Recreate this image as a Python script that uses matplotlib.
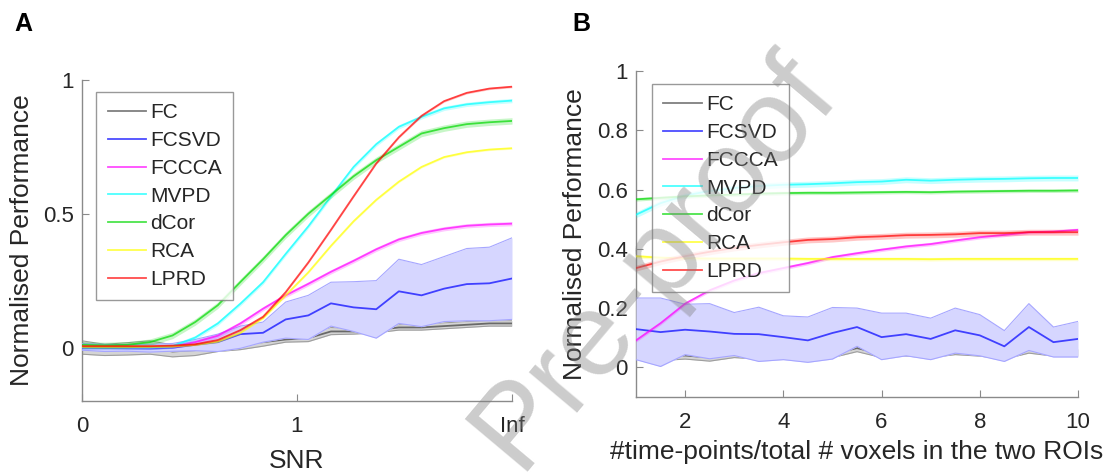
import numpy as np
import matplotlib
matplotlib.use("Agg")
import matplotlib.pyplot as plt

plt.rcParams['font.family'] = ['Liberation Sans', 'DejaVu Sans']

# ---------------- data ----------------
names = ["FC", "FCSVD", "FCCCA", "MVPD", "dCor", "RCA", "LPRD"]

# Panel A: performance vs SNR (20 points from 0 to Inf, plotted on 0..2)
snr_x = np.linspace(0, 2, 20)
snr_ticks = [0, 1, 2]
snr_ticklabels = ["0", "1", "Inf"]

a_fc = [0.0, -0.01, -0.005, 0.0, -0.015, -0.01, 0.005, 0.01, 0.02, 0.03,
        0.035, 0.06, 0.06, 0.065, 0.075, 0.075, 0.08, 0.085, 0.09, 0.09]
a_fc_lo = [-0.025, -0.03, -0.028, -0.025, -0.035, -0.03, -0.015, -0.008, 0.005, 0.02,
           0.022, 0.048, 0.05, 0.055, 0.065, 0.065, 0.07, 0.075, 0.08, 0.08]
a_fc_hi = [0.025, 0.012, 0.018, 0.025, 0.01, 0.012, 0.03, 0.035, 0.04, 0.045,
           0.048, 0.075, 0.07, 0.078, 0.085, 0.088, 0.092, 0.097, 0.1, 0.1]
a_fcsvd = [-0.002, -0.002, -0.003, -0.004, -0.001, 0.01, 0.02, 0.05, 0.055, 0.105,
           0.12, 0.165, 0.15, 0.143, 0.21, 0.195, 0.22, 0.237, 0.24, 0.258]
a_fcsvd_lo = [-0.01, -0.015, -0.014, -0.017, -0.014, -0.012, -0.015, -0.003, 0.02, 0.035,
              0.03, 0.08, 0.06, 0.035, 0.09, 0.078, 0.097, 0.1, 0.1, 0.105]
a_fcsvd_hi = [0.015, 0.012, 0.01, 0.012, 0.015, 0.03, 0.05, 0.08, 0.095, 0.17,
              0.195, 0.244, 0.246, 0.25, 0.33, 0.31, 0.34, 0.37, 0.375, 0.41]
a_fccca = [0.0, 0.0, 0.0, 0.0, 0.005, 0.02, 0.044, 0.09, 0.145, 0.195,
           0.238, 0.283, 0.324, 0.367, 0.404, 0.428, 0.444, 0.455, 0.46, 0.463]
a_mvpd = [0.0, 0.0, 0.0, 0.0, 0.005, 0.037, 0.09, 0.164, 0.244, 0.35,
          0.453, 0.565, 0.675, 0.76, 0.825, 0.862, 0.894, 0.909, 0.917, 0.923]
a_dcor = [0.01, 0.008, 0.01, 0.02, 0.045, 0.095, 0.158, 0.245, 0.33, 0.42,
          0.5, 0.57, 0.64, 0.70, 0.75, 0.80, 0.82, 0.835, 0.842, 0.847]
a_rca = [0.003, 0.003, 0.003, 0.003, 0.004, 0.01, 0.022, 0.055, 0.11, 0.195,
         0.281, 0.38, 0.472, 0.552, 0.62, 0.675, 0.712, 0.73, 0.74, 0.745]
a_lprd = [0.005, 0.005, 0.005, 0.005, 0.007, 0.012, 0.028, 0.065, 0.115, 0.207,
          0.318, 0.44, 0.565, 0.688, 0.786, 0.866, 0.921, 0.952, 0.968, 0.975]
a_err = {"FCCCA": 0.008, "MVPD": 0.008, "dCor": 0.012, "RCA": 0.004, "LPRD": 0.004}

# Panel B: performance vs #time-points / total # voxels
ratio_x = np.arange(1, 10.01, 0.5)
b_fc = [0.04, 0.035, 0.04, 0.033, 0.045, 0.04, 0.045, 0.04, 0.045, 0.065,
        0.045, 0.05, 0.045, 0.055, 0.05, 0.04, 0.06, 0.05, 0.05]
b_fcsvd = [0.129, 0.119, 0.127, 0.121, 0.113, 0.112, 0.102, 0.091, 0.116, 0.136,
           0.102, 0.112, 0.096, 0.125, 0.108, 0.071, 0.136, 0.085, 0.096]
b_fcsvd_lo = [0.026, 0.003, 0.043, 0.029, 0.04, 0.02, 0.026, 0.017, 0.028, 0.071,
              0.026, 0.039, 0.026, 0.048, 0.039, 0.02, 0.057, 0.035, 0.035]
b_fcsvd_hi = [0.234, 0.234, 0.213, 0.215, 0.185, 0.203, 0.174, 0.17, 0.202, 0.2,
              0.183, 0.183, 0.166, 0.2, 0.178, 0.124, 0.215, 0.136, 0.155]
b_fccca = [0.091, 0.149, 0.215, 0.26, 0.293, 0.318, 0.335, 0.352, 0.372, 0.385,
           0.397, 0.408, 0.416, 0.428, 0.439, 0.447, 0.456, 0.458, 0.464]
b_mvpd = [0.515, 0.554, 0.58, 0.595, 0.605, 0.612, 0.616, 0.618, 0.621, 0.625,
          0.627, 0.633, 0.63, 0.633, 0.635, 0.636, 0.638, 0.639, 0.639]
b_dcor = [0.567, 0.572, 0.577, 0.58, 0.583, 0.586, 0.588, 0.589, 0.589, 0.59,
          0.591, 0.592, 0.591, 0.593, 0.594, 0.595, 0.596, 0.596, 0.597]
b_rca = [0.375, 0.37, 0.368, 0.367, 0.367, 0.367, 0.367, 0.366, 0.366, 0.366,
         0.366, 0.366, 0.365, 0.366, 0.366, 0.366, 0.366, 0.366, 0.366]
b_lprd = [0.335, 0.357, 0.375, 0.39, 0.403, 0.413, 0.422, 0.43, 0.433, 0.439,
          0.442, 0.446, 0.447, 0.449, 0.453, 0.453, 0.456, 0.456, 0.456]
b_err = {"FCCCA": 0.006, "MVPD": 0.01, "dCor": 0.006, "RCA": 0.006, "LPRD": 0.01}

colors = {"FC": (0.0, 0.0, 0.0), "FCSVD": (0.0, 0.0, 1.0), "FCCCA": (1.0, 0.0, 1.0),
          "MVPD": (0.0, 1.0, 1.0), "dCor": (0.0, 0.85, 0.0), "RCA": (1.0, 1.0, 0.0),
          "LPRD": (1.0, 0.0, 0.0)}

W, H = 1114, 473
fig = plt.figure(figsize=(W / 100, H / 100), dpi=100)

axA = fig.add_axes([82 / W, 1 - 401 / H, 430 / W, 321 / H])
axB = fig.add_axes([636 / W, 1 - 397 / H, 442 / W, 326 / H])


def light(c, f):
    return tuple(1 - (1 - v) * f for v in c)


def draw(ax, x, series, bands, errs):
    handles = []
    for k, n in enumerate(names):
        z = 1 + 2 * k
        y = np.asarray(series[n])
        c = colors[n]
        if n in bands:
            lo, hi = bands[n]
            fc = light(c, 0.16) if n != "FC" else (0.83, 0.83, 0.83)
            ec = light(c, 0.35) if n != "FC" else (0.62, 0.62, 0.62)
            ax.fill_between(x, lo, hi, color=fc, lw=0, zorder=z)
            ax.plot(x, lo, color=ec, lw=0.8, zorder=z)
            ax.plot(x, hi, color=ec, lw=0.8, zorder=z)
        else:
            e = errs[n]
            ax.fill_between(x, y - e, y + e, color=c, alpha=0.22, lw=0, zorder=z)
        a = 0.5 if n == "FC" else 0.7
        h, = ax.plot(x, y, color=c, lw=1.3, alpha=a, zorder=z + 0.5, label=n)
        handles.append(h)
    return handles


series_a = dict(zip(names, [a_fc, a_fcsvd, a_fccca, a_mvpd, a_dcor, a_rca, a_lprd]))
bands_a = {"FC": (a_fc_lo, a_fc_hi), "FCSVD": (a_fcsvd_lo, a_fcsvd_hi)}
hA = draw(axA, snr_x, series_a, bands_a, a_err)

b_fc_lo = [v - 0.012 for v in b_fc]
b_fc_hi = [v + 0.012 for v in b_fc]
series_b = dict(zip(names, [b_fc, b_fcsvd, b_fccca, b_mvpd, b_dcor, b_rca, b_lprd]))
bands_b = {"FC": (b_fc_lo, b_fc_hi), "FCSVD": (b_fcsvd_lo, b_fcsvd_hi)}
hB = draw(axB, ratio_x, series_b, bands_b, b_err)

tick_col = "#262626"
spine_col = "#8a8a8a"
for ax in (axA, axB):
    for s in ("top", "right"):
        ax.spines[s].set_visible(False)
    for s in ("left", "bottom"):
        ax.spines[s].set_color(spine_col)
        ax.spines[s].set_linewidth(1.0)
    ax.tick_params(direction="in", length=5, width=0.8, color=spine_col,
                   labelsize=16, labelcolor=tick_col)
    ax.tick_params(axis="x", pad=11)
    ax.tick_params(axis="y", pad=6)

axA.set_xlim(0, 2)
axA.set_ylim(-0.2, 1)
axA.set_xticks(snr_ticks)
axA.set_xticklabels(snr_ticklabels)
axA.set_yticks([0, 0.5, 1])
axA.set_yticklabels(["0", "0.5", "1"])
axA.set_xlabel("SNR", fontsize=19, color=tick_col)
axA.set_ylabel("Normalised Performance", fontsize=19, color=tick_col)
axA.xaxis.set_label_coords(0.5, -0.187)
axA.yaxis.set_label_coords(-0.112, 0.5)
axA.xaxis.label.set_va("center")

axB.set_xlim(1, 10)
axB.set_ylim(-0.1, 1)
axB.set_xticks([2, 4, 6, 8, 10])
axB.set_yticks([0, 0.2, 0.4, 0.6, 0.8, 1])
axB.set_yticklabels(["0", "0.2", "0.4", "0.6", "0.8", "1"])
axB.set_xlabel("#time-points/total # voxels in the two ROIs", fontsize=19, color=tick_col)
axB.set_ylabel("Normalised Performance", fontsize=19, color=tick_col)
axB.xaxis.set_label_coords(0.5, -0.169)
axB.yaxis.set_label_coords(-0.11, 0.5)
axB.xaxis.label.set_va("center")

for ax, hs, anchor in ((axA, hA, (0.033, 0.963)), (axB, hB, (0.036, 0.96))):
    leg = ax.legend(handles=hs, loc="upper left", bbox_to_anchor=anchor,
                    borderaxespad=0, fontsize=15, frameon=True, fancybox=False,
                    handlelength=1.85, handletextpad=0.2, labelspacing=0.42,
                    borderpad=0.55)
    leg.get_frame().set_edgecolor("#808080")
    leg.get_frame().set_linewidth(1.0)
    for t in leg.get_texts():
        t.set_color(tick_col)
    leg.set_zorder(30)

fig.text(14 / W, 1 - 24 / H, "A", fontsize=18, fontweight="bold", va="center", ha="left")
fig.text(572 / W, 1 - 24 / H, "B", fontsize=18, fontweight="bold", va="center", ha="left")

# watermark
fig.text(655 / W, 1 - 262 / H, "Pre-proof", fontsize=86, color=(0.5, 0.5, 0.5),
         alpha=0.4, rotation=50, ha="center", va="center", zorder=40)

fig.savefig("out.png", dpi=100)
